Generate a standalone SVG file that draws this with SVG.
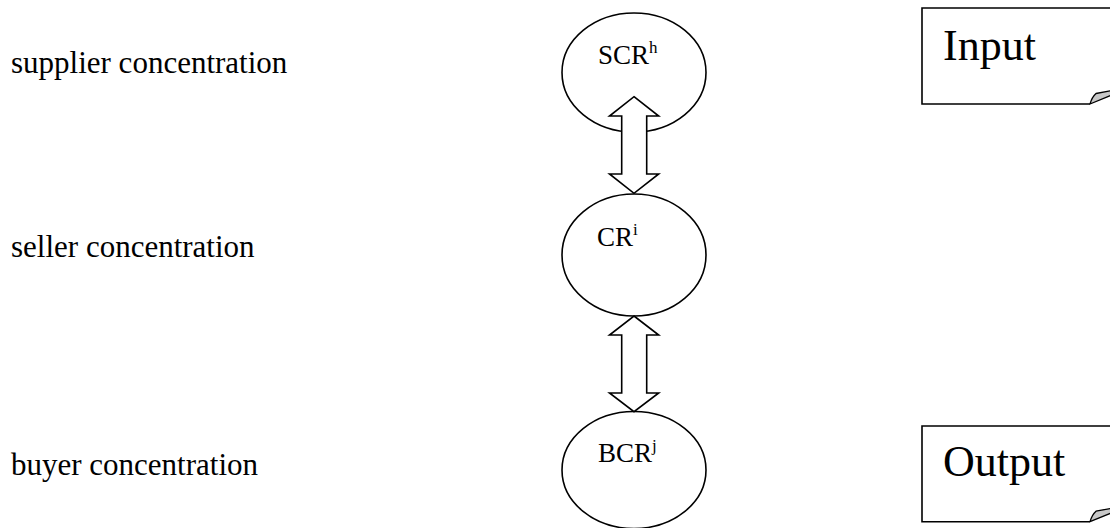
<svg xmlns="http://www.w3.org/2000/svg" width="1110" height="528" viewBox="0 0 1110 528">
  <style>
    text { font-family: "Liberation Serif", "Times New Roman", serif; fill: #000; }
    .label { font-size: 31px; }
    .node-text { font-size: 27px; }
    .sup { font-size: 17px; }
    .box-text { font-size: 44px; }
    .shape { fill: #fff; stroke: #000; stroke-width: 1.6; }
    .fold { fill: #c8c8c8; stroke: #000; stroke-width: 1.3; stroke-linejoin: round; }
  </style>
  <rect width="1110" height="528" fill="#fff"/>

  <!-- row labels -->
  <g id="labels">
    <text class="label" x="11" y="73">supplier concentration</text>
    <text class="label" x="11" y="257">seller concentration</text>
    <text class="label" x="11" y="475">buyer concentration</text>
  </g>

  <g id="node-scr">
    <ellipse class="shape" cx="634" cy="72.5" rx="72" ry="59.5"/>
    <text class="node-text" x="598" y="64">SCR<tspan class="sup" dy="-11">h</tspan></text>
  </g>

  <g id="node-cr">
    <ellipse class="shape" cx="634" cy="255" rx="72" ry="61"/>
    <text class="node-text" x="597" y="246">CR<tspan class="sup" dy="-11">i</tspan></text>
  </g>

  <g id="node-bcr">
    <ellipse class="shape" cx="634" cy="470" rx="72" ry="58.5"/>
    <text class="node-text" x="598" y="462">BCR<tspan class="sup" dy="-11">j</tspan></text>
  </g>

  <!-- double-headed block arrows between the levels -->
  <g id="connectors">
    <path class="shape" d="M634 96.7 L658.7 116 L646.7 116 L646.7 174 L658.7 174 L634 193.3 L609.5 174 L621.7 174 L621.7 116 L609.5 116 Z"/>
    <path class="shape" d="M634 316 L658.7 335 L646.7 335 L646.7 393 L658.7 393 L634 411.7 L609.5 393 L621.7 393 L621.7 335 L609.5 335 Z"/>
  </g>

  <g id="note-input">
    <path class="shape" d="M1112 8 L922 8 L922 104 L1090 104"/>
    <path class="fold" d="M1090 104 Q1092 97 1096 93.5 L1112 90.5 L1112 95 Z"/>
    <text class="box-text" x="943" y="60">Input</text>
  </g>

  <g id="note-output">
    <path class="shape" d="M1112 426 L922 426 L922 521.7 L1090 521.7"/>
    <path class="fold" d="M1090 521.7 Q1092 514.7 1096 511.2 L1112 508.2 L1112 512.7 Z"/>
    <text class="box-text" x="943" y="476">Output</text>
  </g>
</svg>
